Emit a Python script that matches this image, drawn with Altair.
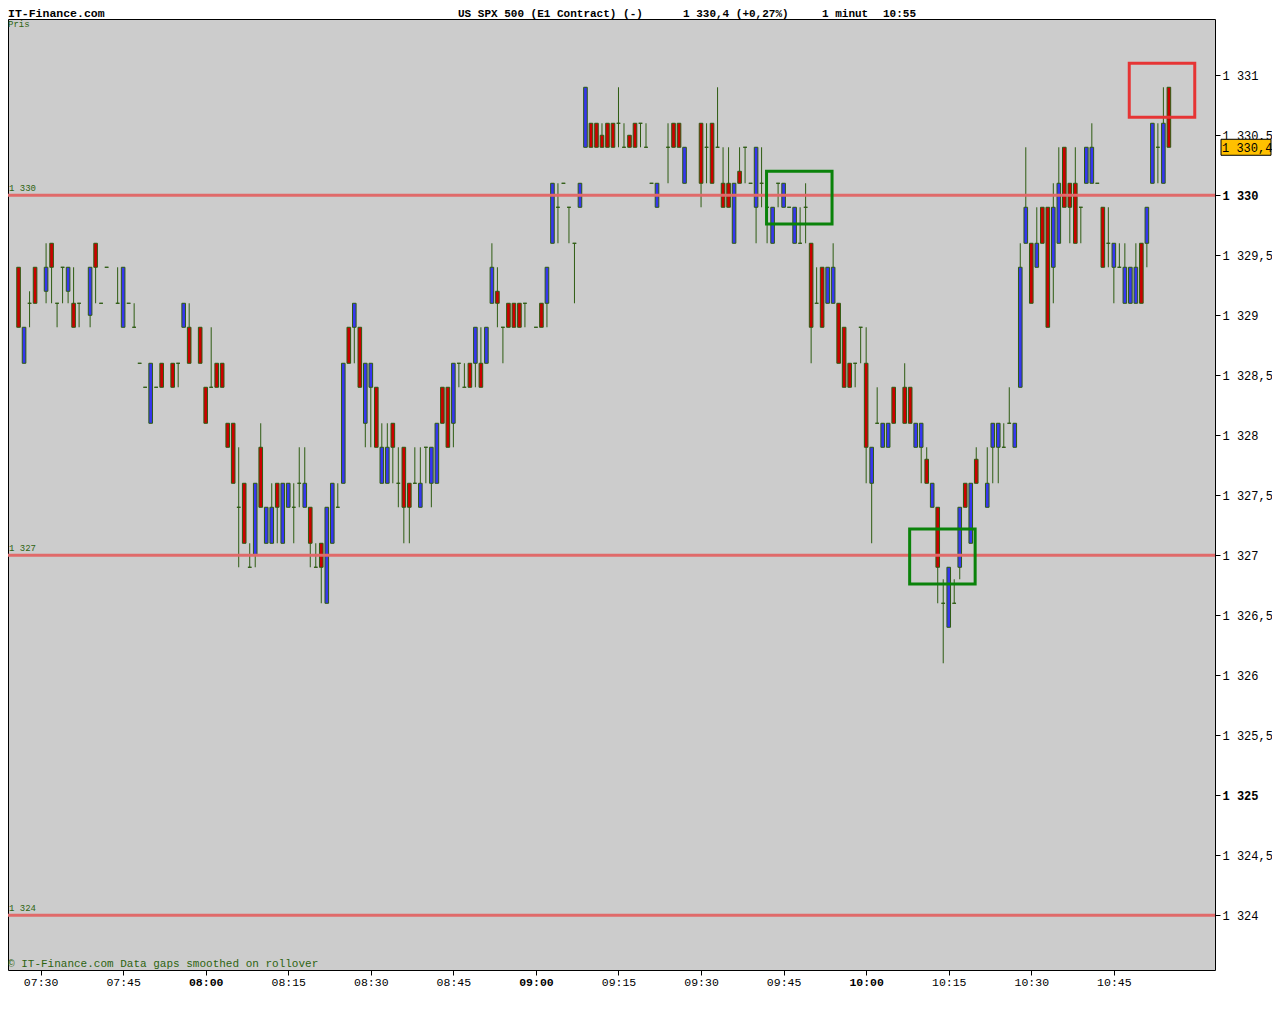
import altair as alt
import pandas as pd

# ---------------- data ----------------
# minute slot of each candle, counted from 07:30
TIME_MIN = [
    -4, -3, -2, -1, 1, 2, 3, 4, 5, 6,
    7, 9, 10, 11, 12, 14, 15, 16, 17, 18,
    19, 20, 21, 22, 24, 25, 26, 27, 29, 30,
    31, 32, 33, 34, 35, 36, 37, 38, 39, 40,
    41, 42, 43, 44, 45, 46, 47, 48, 49, 50,
    51, 52, 53, 54, 55, 56, 57, 58, 59, 60,
    61, 62, 63, 64, 65, 66, 67, 68, 69, 70,
    71, 72, 73, 74, 75, 76, 77, 78, 79, 80,
    81, 82, 83, 84, 85, 86, 87, 88, 90, 91,
    92, 93, 94, 95, 96, 97, 98, 99, 100, 101,
    102, 103, 104, 105, 106, 107, 108, 109, 110, 111,
    112, 114, 115, 116, 117, 120, 121, 122, 123, 124,
    125, 126, 127, 128, 129, 130, 131, 132, 133, 134,
    135, 136, 137, 138, 139, 140, 141, 142, 143, 144,
    145, 146, 147, 148, 149, 150, 151, 152, 153, 154,
    155, 157, 158, 159, 160, 161, 162, 163, 164, 165,
    166, 167, 168, 169, 170, 172, 173, 174, 175, 176,
    177, 178, 179, 180, 181, 182, 183, 184, 185, 186,
    187, 188, 189, 190, 191, 192, 193, 194, 195, 196,
    197, 198, 199, 200, 201, 202, 203, 204, 205,
]
OPEN = [
    1329.4, 1328.6, 1329.1, 1329.4, 1329.2, 1329.6, 1329.1, 1329.4, 1329.2, 1329.1,
    1329.1, 1329.0, 1329.6, 1329.1, 1329.4, 1329.1, 1328.9, 1329.1, 1328.9, 1328.6,
    1328.4, 1328.1, 1328.4, 1328.6, 1328.6, 1328.6, 1328.9, 1328.9, 1328.9, 1328.4,
    1328.4, 1328.6, 1328.6, 1328.1, 1328.1, 1327.4, 1327.6, 1326.9, 1327.0, 1327.9,
    1327.1, 1327.1, 1327.6, 1327.1, 1327.4, 1327.4, 1327.6, 1327.4, 1327.4, 1326.9,
    1327.1, 1326.6, 1327.1, 1327.4, 1327.6, 1328.9, 1328.9, 1328.9, 1328.1, 1328.4,
    1328.4, 1327.6, 1327.6, 1328.1, 1327.6, 1327.9, 1327.6, 1327.6, 1327.4, 1327.9,
    1327.6, 1327.6, 1328.4, 1328.4, 1328.1, 1328.6, 1328.4, 1328.6, 1328.6, 1328.6,
    1328.6, 1329.1, 1329.2, 1328.9, 1329.1, 1329.1, 1329.1, 1329.1, 1328.9, 1329.1,
    1329.1, 1329.6, 1329.9, 1330.1, 1329.9, 1329.6, 1329.9, 1330.4, 1330.6, 1330.6,
    1330.5, 1330.6, 1330.6, 1330.6, 1330.4, 1330.5, 1330.6, 1330.6, 1330.4, 1330.1,
    1329.9, 1330.4, 1330.6, 1330.6, 1330.1, 1330.6, 1330.4, 1330.6, 1330.4, 1330.1,
    1330.1, 1329.6, 1330.2, 1330.4, 1330.1, 1329.9, 1330.1, 1329.9, 1329.6, 1330.1,
    1329.9, 1329.9, 1329.6, 1329.6, 1329.9, 1329.6, 1329.1, 1329.4, 1329.1, 1329.1,
    1329.1, 1328.9, 1328.6, 1328.6, 1328.9, 1328.6, 1327.6, 1328.1, 1327.9, 1327.9,
    1328.4, 1328.4, 1328.4, 1327.9, 1327.9, 1327.8, 1327.4, 1327.4, 1326.6, 1326.4,
    1326.6, 1326.9, 1327.6, 1327.1, 1327.8, 1327.4, 1327.9, 1327.9, 1327.9, 1328.1,
    1327.9, 1328.4, 1329.6, 1329.6, 1329.4, 1329.9, 1329.9, 1329.4, 1329.6, 1330.4,
    1330.1, 1330.1, 1329.9, 1330.1, 1330.1, 1330.1, 1329.9, 1329.6, 1329.4, 1329.4,
    1329.1, 1329.1, 1329.1, 1329.6, 1329.6, 1330.1, 1330.4, 1330.1, 1330.9,
]
HIGH = [
    1329.4, 1328.9, 1329.2, 1329.4, 1329.6, 1329.6, 1329.1, 1329.4, 1329.4, 1329.4,
    1329.1, 1329.4, 1329.6, 1329.1, 1329.4, 1329.4, 1329.4, 1329.1, 1329.1, 1328.6,
    1328.4, 1328.6, 1328.4, 1328.6, 1328.6, 1328.6, 1329.1, 1329.1, 1328.9, 1328.4,
    1328.9, 1328.6, 1328.6, 1328.1, 1328.1, 1327.9, 1327.6, 1327.1, 1327.6, 1328.1,
    1327.4, 1327.6, 1327.6, 1327.6, 1327.6, 1327.6, 1327.9, 1327.9, 1327.4, 1327.1,
    1327.1, 1327.4, 1327.6, 1327.6, 1328.6, 1328.9, 1329.1, 1328.9, 1328.6, 1328.6,
    1328.4, 1328.1, 1328.1, 1328.1, 1327.9, 1327.9, 1327.6, 1327.9, 1327.9, 1327.9,
    1327.9, 1328.1, 1328.4, 1328.4, 1328.6, 1328.6, 1328.6, 1328.6, 1328.9, 1328.9,
    1328.9, 1329.6, 1329.4, 1328.9, 1329.1, 1329.1, 1329.1, 1329.1, 1328.9, 1329.1,
    1329.4, 1330.1, 1330.1, 1330.1, 1329.9, 1329.6, 1330.1, 1330.9, 1330.6, 1330.6,
    1330.6, 1330.6, 1330.6, 1330.9, 1330.6, 1330.5, 1330.6, 1330.6, 1330.6, 1330.1,
    1330.1, 1330.6, 1330.6, 1330.6, 1330.4, 1330.6, 1330.6, 1330.6, 1330.9, 1330.4,
    1330.4, 1330.1, 1330.4, 1330.4, 1330.1, 1330.4, 1330.4, 1329.9, 1329.9, 1330.1,
    1330.1, 1329.9, 1329.9, 1329.9, 1330.1, 1329.6, 1329.4, 1329.4, 1329.4, 1329.6,
    1329.1, 1328.9, 1328.6, 1328.6, 1328.9, 1328.9, 1327.9, 1328.4, 1328.1, 1328.1,
    1328.4, 1328.6, 1328.4, 1328.1, 1328.1, 1327.9, 1327.6, 1327.4, 1326.8, 1326.9,
    1326.8, 1327.4, 1327.6, 1327.6, 1327.9, 1327.9, 1328.1, 1328.1, 1328.1, 1328.4,
    1328.1, 1329.6, 1330.4, 1329.6, 1329.9, 1329.9, 1329.9, 1330.1, 1330.4, 1330.4,
    1330.1, 1330.4, 1329.9, 1330.4, 1330.6, 1330.1, 1329.9, 1329.9, 1329.6, 1329.6,
    1329.6, 1329.4, 1329.6, 1329.6, 1329.9, 1330.6, 1330.6, 1330.9, 1330.9,
]
LOW = [
    1328.9, 1328.6, 1328.9, 1329.1, 1329.1, 1329.1, 1328.9, 1329.1, 1329.1, 1328.9,
    1328.9, 1328.9, 1329.1, 1329.1, 1329.4, 1329.1, 1328.9, 1329.1, 1328.9, 1328.6,
    1328.4, 1328.1, 1328.4, 1328.4, 1328.4, 1328.4, 1328.9, 1328.6, 1328.6, 1328.1,
    1328.4, 1328.4, 1328.4, 1327.9, 1327.6, 1326.9, 1327.1, 1326.9, 1326.9, 1327.4,
    1327.1, 1327.1, 1327.1, 1327.1, 1327.4, 1327.1, 1327.4, 1327.4, 1326.9, 1326.9,
    1326.6, 1326.6, 1327.1, 1327.4, 1327.6, 1328.6, 1328.6, 1328.4, 1327.9, 1327.9,
    1327.9, 1327.6, 1327.6, 1327.6, 1327.4, 1327.1, 1327.1, 1327.6, 1327.4, 1327.6,
    1327.4, 1327.6, 1328.1, 1327.9, 1327.9, 1328.4, 1328.4, 1328.4, 1328.4, 1328.4,
    1328.6, 1329.1, 1328.9, 1328.6, 1328.9, 1328.9, 1328.9, 1328.9, 1328.9, 1328.9,
    1328.9, 1329.6, 1329.6, 1330.1, 1329.6, 1329.1, 1329.9, 1330.4, 1330.4, 1330.4,
    1330.4, 1330.4, 1330.4, 1330.4, 1330.4, 1330.4, 1330.4, 1330.4, 1330.4, 1330.1,
    1329.9, 1330.1, 1330.4, 1330.4, 1330.1, 1329.9, 1330.1, 1330.1, 1330.4, 1329.9,
    1329.9, 1329.6, 1330.1, 1330.1, 1330.1, 1329.6, 1329.9, 1329.6, 1329.6, 1329.9,
    1329.9, 1329.9, 1329.6, 1329.6, 1329.6, 1328.6, 1329.1, 1328.9, 1329.1, 1329.1,
    1328.6, 1328.4, 1328.4, 1328.4, 1328.6, 1327.6, 1327.1, 1328.1, 1327.9, 1327.9,
    1328.1, 1328.1, 1328.1, 1327.9, 1327.6, 1327.6, 1327.4, 1326.6, 1326.1, 1326.4,
    1326.6, 1326.8, 1327.4, 1327.1, 1327.6, 1327.4, 1327.6, 1327.6, 1327.9, 1328.1,
    1327.9, 1328.4, 1329.6, 1329.1, 1329.4, 1329.6, 1328.9, 1329.1, 1329.6, 1329.9,
    1329.6, 1329.6, 1329.6, 1330.1, 1330.1, 1330.1, 1329.4, 1329.4, 1329.1, 1329.4,
    1329.1, 1329.1, 1329.1, 1329.1, 1329.4, 1330.1, 1330.1, 1330.1, 1330.4,
]
CLOSE = [
    1328.9, 1328.9, 1329.1, 1329.1, 1329.4, 1329.4, 1329.1, 1329.4, 1329.4, 1328.9,
    1329.1, 1329.4, 1329.4, 1329.1, 1329.4, 1329.1, 1329.4, 1329.1, 1328.9, 1328.6,
    1328.4, 1328.6, 1328.4, 1328.4, 1328.4, 1328.6, 1329.1, 1328.6, 1328.6, 1328.1,
    1328.4, 1328.4, 1328.4, 1327.9, 1327.6, 1327.4, 1327.1, 1326.9, 1327.6, 1327.4,
    1327.4, 1327.4, 1327.4, 1327.6, 1327.6, 1327.4, 1327.6, 1327.6, 1327.1, 1326.9,
    1326.9, 1327.4, 1327.6, 1327.4, 1328.6, 1328.6, 1329.1, 1328.4, 1328.6, 1328.6,
    1327.9, 1327.9, 1327.9, 1327.9, 1327.6, 1327.4, 1327.4, 1327.6, 1327.6, 1327.9,
    1327.9, 1328.1, 1328.1, 1327.9, 1328.6, 1328.6, 1328.4, 1328.4, 1328.9, 1328.4,
    1328.9, 1329.4, 1329.1, 1328.9, 1328.9, 1328.9, 1328.9, 1329.1, 1328.9, 1328.9,
    1329.4, 1330.1, 1329.9, 1330.1, 1329.9, 1329.6, 1330.1, 1330.9, 1330.4, 1330.4,
    1330.4, 1330.4, 1330.4, 1330.6, 1330.4, 1330.4, 1330.4, 1330.6, 1330.4, 1330.1,
    1330.1, 1330.4, 1330.4, 1330.4, 1330.4, 1330.1, 1330.4, 1330.1, 1330.4, 1329.9,
    1329.9, 1330.1, 1330.1, 1330.4, 1330.1, 1330.4, 1330.1, 1329.9, 1329.9, 1330.1,
    1330.1, 1329.9, 1329.9, 1329.6, 1329.9, 1328.9, 1329.1, 1328.9, 1329.4, 1329.4,
    1328.6, 1328.4, 1328.4, 1328.6, 1328.9, 1327.9, 1327.9, 1328.1, 1328.1, 1328.1,
    1328.1, 1328.1, 1328.1, 1328.1, 1328.1, 1327.6, 1327.6, 1326.9, 1326.6, 1326.9,
    1326.6, 1327.4, 1327.4, 1327.6, 1327.6, 1327.6, 1328.1, 1328.1, 1327.9, 1328.1,
    1328.1, 1329.4, 1329.9, 1329.1, 1329.6, 1329.6, 1328.9, 1329.9, 1330.1, 1329.9,
    1329.9, 1329.6, 1329.9, 1330.4, 1330.4, 1330.1, 1329.4, 1329.6, 1329.6, 1329.4,
    1329.4, 1329.4, 1329.4, 1329.1, 1329.9, 1330.6, 1330.4, 1330.6, 1330.4,
]

LEVELS = [1330, 1327, 1324]
Y_TICKS = [1324, 1324.5, 1325, 1325.5, 1326, 1326.5, 1327, 1327.5,
           1328, 1328.5, 1329, 1329.5, 1330, 1330.5, 1331]
X_TICK_LABELS = ["07:30", "07:45", "08:00", "08:15", "08:30", "08:45", "09:00",
                 "09:15", "09:30", "09:45", "10:00", "10:15", "10:30", "10:45"]

# annotation boxes (time in minutes after 07:30, price)
BOX_KIND = ["green", "green", "red"]
BOX_T0 = [131.9, 157.9, 197.8]
BOX_T1 = [143.8, 169.8, 209.7]
BOX_P0 = [1330.2, 1327.22, 1331.1]
BOX_P1 = [1329.76, 1326.76, 1330.65]

SITE = "IT-Finance.com"
INSTRUMENT = "US SPX 500 (E1 Contract) (-)"
CHANGE = "(+0,27%)"
PERIOD = "1 minut"
CLOCK = "10:55"
PANEL = "Pris"
FOOTER = "\u00a9 IT-Finance.com Data gaps smoothed on rollover"

# ---------------- styling ----------------
FONT = "Liberation Mono"
WICK = "#2e5c12"
UP = "#3636f0"
DOWN = "#cc0000"
TXT_GREEN = "#2d6410"
LEVEL_RED = "#e06a6a"
W, H = 1207, 951


def fmt_price(v):
    s = f"{v - 1000:.1f}" if abs(v - round(v)) > 1e-9 else f"{int(round(v)) - 1000}"
    return "1 " + s.replace(".", ",")


def to_min(lbl):
    hh, mm = lbl.split(":")
    return int(hh) * 60 + int(mm) - 450


df = pd.DataFrame({"t": TIME_MIN, "open": OPEN, "high": HIGH, "low": LOW, "close": CLOSE})
df["dir"] = ["up" if c > o else ("down" if c < o else "flat") for o, c in zip(OPEN, CLOSE)]

levels = pd.DataFrame({"value": LEVELS, "label": [fmt_price(v) for v in LEVELS]})
boxes = pd.DataFrame({"kind": BOX_KIND, "t0": BOX_T0, "t1": BOX_T1, "p0": BOX_P0, "p1": BOX_P1})
last = pd.DataFrame({"close": [CLOSE[-1]], "label": [fmt_price(CLOSE[-1])]})

xscale = alt.Scale(domain=[-5.01, 212.47], nice=False, zero=False)
yscale = alt.Scale(domain=[1323.544, 1331.469], nice=False, zero=False)

xaxis = alt.Axis(
    values=[to_min(l) for l in X_TICK_LABELS],
    labelExpr="timeFormat(datetime(2000, 0, 1, 7, 30 + datum.value), '%H:%M')",
    labelFontWeight={"condition": {"test": "(datum.value + 30) % 60 === 0", "value": "bold"},
                     "value": "normal"},
    labelFont=FONT, labelFontSize=11.5, labelColor="black",
    tickSize=5, tickColor="black", labelPadding=1, labelFlush=False,
    labelOverlap=False, domain=False, grid=False, title=None,
)
yaxis = alt.Axis(
    orient="right",
    values=Y_TICKS,
    labelExpr="'1 ' + replace(format(datum.value - 1000, datum.value % 1 === 0 ? 'd' : '.1f'), '.', ',')",
    labelFontWeight={"condition": {"test": "datum.value % 5 === 0", "value": "bold"},
                     "value": "normal"},
    labelFont=FONT, labelFontSize=12, labelColor="black",
    tickSize=5, tickColor="black", labelPadding=2, labelFlush=False,
    labelOverlap=False, domain=False, grid=False, title=None,
)


def X(field):
    return alt.X(field, scale=xscale, axis=xaxis)


def Y(field):
    return alt.Y(field, scale=yscale, axis=yaxis)


wicks = alt.Chart(df).mark_rule(color=WICK, strokeWidth=1).encode(
    x=X("t:Q"), y=Y("low:Q"), y2="high:Q",
)

bodies = alt.Chart(df).mark_bar(size=3.6, stroke=WICK, strokeWidth=1).encode(
    x=X("t:Q"), y=Y("open:Q"), y2="close:Q",
    color=alt.Color("dir:N", scale=alt.Scale(domain=["up", "down", "flat"],
                                             range=[UP, DOWN, WICK]), legend=None),
)

level_lines = alt.Chart(levels).mark_rule(color=LEVEL_RED, strokeWidth=3).encode(
    y=Y("value:Q"),
)

level_text = alt.Chart(levels).mark_text(
    align="left", baseline="bottom", dy=-2, font=FONT, fontSize=9, color=TXT_GREEN
).encode(
    x=alt.value(1), y=Y("value:Q"), text="label:N",
)

box_marks = alt.Chart(boxes).mark_rect(fillOpacity=0, strokeWidth=3).encode(
    x=X("t0:Q"), x2="t1:Q", y=Y("p0:Q"), y2="p1:Q",
    stroke=alt.Stroke("kind:N", scale=alt.Scale(domain=["green", "red"],
                                                range=["#0a820a", "#e63434"]), legend=None),
)

tag_box = alt.Chart(last).mark_rect(
    fill="#ffc000", stroke="black", strokeWidth=1, yOffset=-8, y2Offset=8
).encode(
    x=alt.value(W + 6), x2=alt.value(W + 56), y=Y("close:Q"), y2="close:Q",
)
tag_text = alt.Chart(last).mark_text(
    align="left", baseline="middle", font=FONT, fontSize=12, color="black", dy=1
).encode(
    x=alt.value(W + 7), y=Y("close:Q"), text="label:N",
)


def label(text, x, y, size, weight="normal", color="black", baseline="alphabetic"):
    return alt.Chart(pd.DataFrame({"s": [text]})).mark_text(
        align="left", baseline=baseline, font=FONT, fontSize=size,
        fontWeight=weight, color=color,
    ).encode(x=alt.value(x), y=alt.value(y), text="s:N")


header = [
    label(SITE, 0, -2, 11.5, "bold"),
    label(INSTRUMENT, 450, -2, 11, "bold"),
    label(fmt_price(CLOSE[-1]) + " " + CHANGE, 675, -2, 11, "bold"),
    label(PERIOD, 814, -2, 11, "bold"),
    label(CLOCK, 875, -2, 11, "bold"),
    label(PANEL, 0, 5, 9, color=TXT_GREEN, baseline="middle"),
    label(FOOTER, 0, H - 6, 11, color=TXT_GREEN, baseline="middle"),
]

chart = alt.layer(
    wicks, bodies, level_lines, level_text, box_marks, tag_box, tag_text, *header
).properties(
    width=W, height=H,
    autosize=alt.AutoSizeParams(type="none"),
    padding={"left": 0, "top": 11, "right": 57, "bottom": 25},
    background="white",
).configure_view(
    fill="#cccccc", stroke="black", strokeWidth=1,
)

chart.save("out.html", embed_options={"renderer": "svg", "actions": False})
